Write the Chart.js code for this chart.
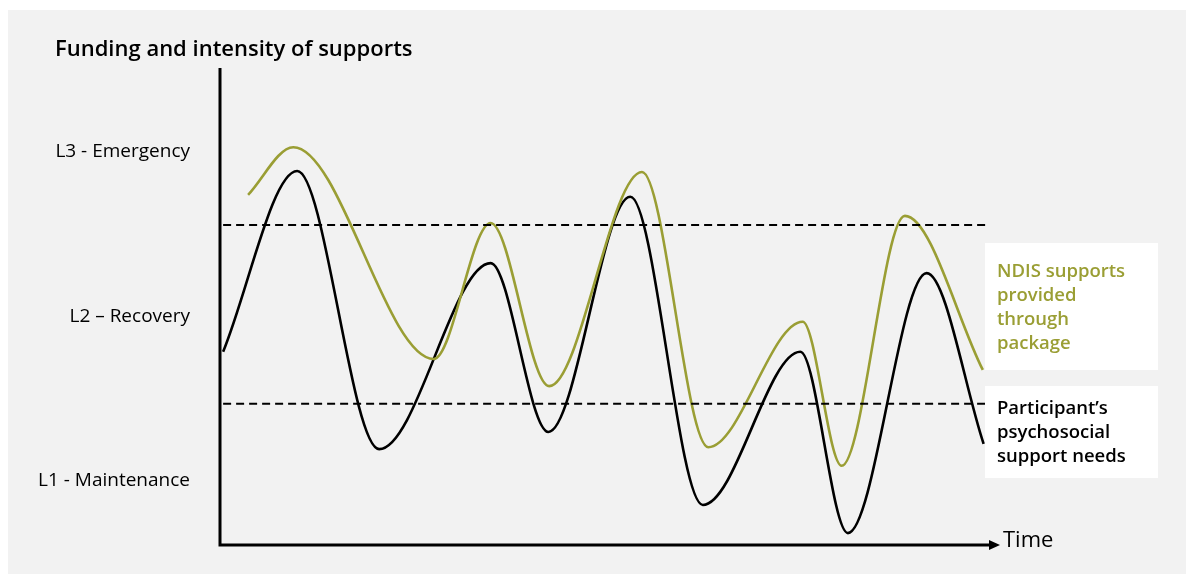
<!DOCTYPE html>
<html>
<head>
<meta charset="utf-8">
<script src="https://cdn.jsdelivr.net/npm/chart.js@4"></script>
<style>
  html,body{margin:0;padding:0;background:#fff;}
  #wrap{width:1186px;height:574px;position:relative;}
</style>
</head>
<body>
<div id="wrap"><canvas id="myChart" width="1186" height="574"></canvas></div>
<script>
//! Data (time 0-100, intensity 0-100)
const needsTime  = [0.4, 9.9, 20.4, 34.7, 42.1, 52.6, 61.9, 74.4, 80.5, 90.6, 97.9];
const needsLevel = [40.5, 78.4, 20.1, 59.1, 23.7, 73.0, 8.4, 40.5, 2.5, 57.0, 21.2];
const fundTime   = [3.6, 9.4, 27.4, 34.7, 42.2, 54.1, 62.6, 74.7, 79.7, 87.8, 97.8];
const fundLevel  = [73.4, 83.4, 39.0, 67.5, 33.3, 78.2, 20.5, 46.8, 16.6, 69.0, 36.7];
const thresholds = [67.1, 29.6];
const thresholdSpan = [0.4, 98.1];
const levelTicks  = [13.4, 47.8, 82.4];
const levelLabels = ["L1 - Maintenance", "L2 \u2013 Recovery", "L3 - Emergency"];
const fundLabel  = ["NDIS supports", "provided", "through", "package"];
const needsLabel = ["Participant\u2019s", "psychosocial", "support needs"];

const green = "#9a9e34";
const font = '"Open Sans", "Noto Sans", sans-serif';

function toPoints(xs, ys){
    let pts = [];
    for(let i=0;i<xs.length;i++){
        pts.push({x: xs[i], y: ys[i]});
    }
    return pts;
}

let datasets = [];
for(let t of thresholds){
    datasets.push({
        data: [{x: thresholdSpan[0], y: t}, {x: thresholdSpan[1], y: t}],
        borderColor: "#000",
        borderWidth: 2,
        borderDash: [8, 5],
        pointRadius: 0
    });
}
datasets.push({
    label: fundLabel.join(" "),
    data: toPoints(fundTime, fundLevel),
    borderColor: green,
    borderWidth: 2.6,
    pointRadius: 0,
    cubicInterpolationMode: "monotone"
});
datasets.push({
    label: needsLabel.join(" "),
    data: toPoints(needsTime, needsLevel),
    borderColor: "#000",
    borderWidth: 2.6,
    pointRadius: 0,
    cubicInterpolationMode: "monotone"
});

//! background, axes with arrow, title and side notes
const decor = {
    id: "decor",
    beforeDraw(chart){
        const c = chart.ctx;
        c.save();
        c.fillStyle = "#fff";
        c.fillRect(0, 0, chart.width, chart.height);
        c.fillStyle = "#f2f2f2";
        c.fillRect(8, 10, chart.width - 8, chart.height - 10);
        c.restore();
    },
    afterDraw(chart){
        const c = chart.ctx;
        const a = chart.chartArea;
        c.save();
        c.strokeStyle = "#000";
        c.lineWidth = 3;
        c.beginPath();
        c.moveTo(a.left, a.top);
        c.lineTo(a.left, a.bottom);
        c.lineTo(a.right - 8, a.bottom);
        c.stroke();
        c.fillStyle = "#000";
        c.beginPath();
        c.moveTo(a.right, a.bottom);
        c.lineTo(a.right - 11, a.bottom - 5);
        c.lineTo(a.right - 11, a.bottom + 5);
        c.closePath();
        c.fill();

        c.textBaseline = "middle";
        c.textAlign = "left";
        c.font = "600 22px " + font;
        c.fillText("Funding and intensity of supports", 55, 50);
        c.font = "22px " + font;
        c.fillText("Time", a.right + 3, a.bottom - 4);

        c.fillStyle = "#fff";
        c.fillRect(985, 243, 173, 127);
        c.fillRect(985, 386, 173, 92);
        c.font = "600 18.5px " + font;
        c.fillStyle = green;
        fundLabel.forEach((t, i) => c.fillText(t, 997, 272 + i*24));
        c.fillStyle = "#000";
        needsLabel.forEach((t, i) => c.fillText(t, 997, 409 + i*24));
        c.restore();
    }
};

const ctx = document.getElementById("myChart");
const myChart = new Chart(ctx, {
    type: "line",
    data: { datasets: datasets },
    options: {
        responsive: false,
        animation: false,
        devicePixelRatio: 1,
        layout: { padding: { top: 68, right: 186, bottom: 29, left: 0 } },
        plugins: { legend: { display: false }, tooltip: { enabled: false } },
        scales: {
            x: { type: "linear", min: 0, max: 100, display: false },
            y: {
                min: 0, max: 100,
                grid: { display: false, drawTicks: false },
                border: { display: false },
                afterFit(scale){
                    scale.width = 220;
                    scale.paddingTop = 0;
                    scale.paddingBottom = 0;
                },
                afterBuildTicks(scale){ scale.ticks = levelTicks.map(v => ({value: v})); },
                ticks: {
                    padding: 30,
                    color: "#000",
                    font: { family: font, size: 19 },
                    callback: (v) => levelLabels[levelTicks.indexOf(v)]
                }
            }
        }
    },
    plugins: [decor]
});
</script>
</body>
</html>
